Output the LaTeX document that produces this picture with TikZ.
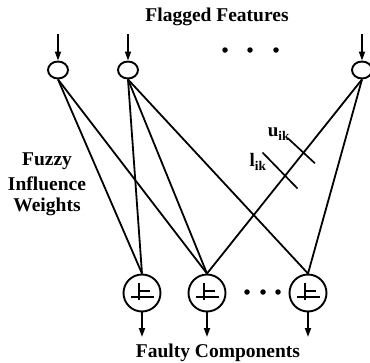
\documentclass[tikz,border=0pt]{standalone}
\usepackage{fontspec}
\setmainfont{Liberation Serif}
\usetikzlibrary{shapes.geometric,arrows.meta,calc}
\begin{document}
\begin{tikzpicture}[x=1pt,y=-1pt,
  wire/.style={line width=1.8pt},
  inarrow/.style={line width=1.8pt,-{Triangle[length=9pt,width=6pt]}},
  feature/.style={ellipse,draw,line width=1.9pt,minimum width=20pt,minimum height=17pt,inner sep=0pt},
  component/.style={circle,draw,line width=1.9pt,minimum size=37pt,inner sep=0pt,
    path picture={
      \coordinate (m) at (path picture bounding box.center);
      \draw[line width=1.6pt] ($(m)+(-3,-10)$) -- ($(m)+(-3,7)$);
      \draw[line width=1.6pt] ($(m)+(-3,-2)$) -- ($(m)+(8,-2)$);
      \draw[line width=1.6pt] ($(m)+(-11,4)$) -- ($(m)+(12,4)$);
    }},
  lbl/.style={font=\bfseries\fontsize{19.5}{21}\selectfont,inner sep=0pt},
  wlbl/.style={font=\bfseries\fontsize{19}{20}\selectfont,inner sep=0pt},
  tick/.style={line width=1.7pt},
  dot/.style={circle,fill,inner sep=0pt,minimum size=5.5pt}]
\useasboundingbox (0,0) rectangle (370,362);

% titles
\node[lbl] (title) at (217,17) {Flagged Features};
\node[lbl] (bottomtitle) at (218,353) {Faulty Components};
\node[lbl] (w1) at (47,161) {Fuzzy};
\node[lbl] (w2) at (47,184) {Influence};
\node[lbl] (w3) at (47,207) {Weights};

% feature nodes
\node[feature] (t1) at (58,70) {};
\node[feature] (t2) at (128,70) {};
\node[feature] (t3) at (362,70) {};
\node[dot] (d1) at (225,50) {};
\node[dot] (d2) at (250,50) {};
\node[dot] (d3) at (276,50) {};

% component nodes
\node[component] (c1) at (142,293) {};
\node[component] (c2) at (207,293) {};
\node[component] (c3) at (308,293) {};
\node[dot] (e1) at (247,292) {};
\node[dot] (e2) at (263,292) {};
\node[dot] (e3) at (278,292) {};

% inputs and outputs
\coordinate (i1) at (58,34);
\coordinate (i2) at (128,34);
\coordinate (i3) at (362,34);
\draw[inarrow] (i1) -- (t1.north);
\draw[inarrow] (i2) -- (t2.north);
\draw[inarrow] (i3) -- (t3.north);
\coordinate (o1) at (142,337);
\coordinate (o2) at (207,337);
\coordinate (o3) at (308,337);
\draw[inarrow] (c1.south) -- (o1);
\draw[inarrow] (c2.south) -- (o2);
\draw[inarrow] (c3.south) -- (o3);

% influence connections
\draw[wire] (t1.south) -- (c1.north);
\draw[wire] (t1.south) -- (c2.north);
\draw[wire] (t2.south) -- (c1.north);
\draw[wire] (t2.south) -- (c2.north);
\draw[wire] (t2.south) -- (c3.north);
\draw[wire] (t3.south) -- (c2.north) coordinate[pos=0.375] (x1) coordinate[pos=0.5] (x2);
\draw[wire] (t3.south) -- (c3.north);

% upper and lower weight marks
\draw[tick] ($(x1)+(-16,-14)$) -- ($(x1)+(11,11)$);
\draw[tick] ($(x2)+(-22,-24)$) -- ($(x2)+(13,12)$);
\node[wlbl] (u) at (279,134) {u$_{\mathbf{ik}}$};
\node[wlbl] (l) at (258,162) {l$_{\mathbf{ik}}$};
\end{tikzpicture}
\end{document}
